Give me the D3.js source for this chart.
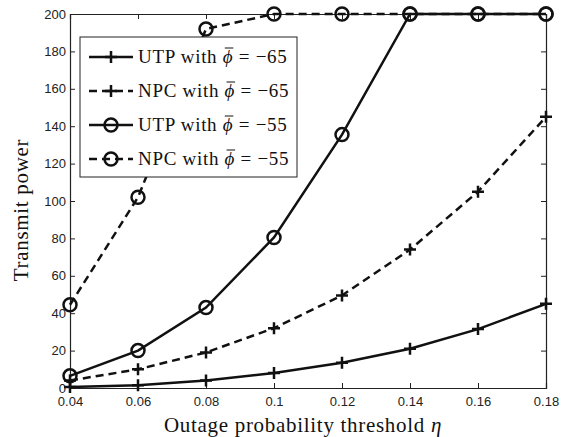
<!DOCTYPE html>
<html>
<head>
<meta charset="utf-8">
<script src="https://cdn.jsdelivr.net/npm/d3@7"></script>
<style>
  body { margin: 0; background: #fff; }
  svg { display: block; }
  .tick text { font-family: "Liberation Sans", Arial, sans-serif; font-size: 13px; fill: #222; }
  .lbl { font-family: "Liberation Serif", "DejaVu Serif", serif; fill: #111; letter-spacing: 0.7px; }
</style>
</head>
<body>
<svg id="chart" width="569" height="437"></svg>
<script>
// Outage probability threshold
const eta = [0.04, 0.06, 0.08, 0.1, 0.12, 0.14, 0.16, 0.18];
const utp65 = [0.5, 1.5, 4, 8, 13.5, 21, 31.5, 45];
const npc65 = [4, 10, 19, 32, 49.5, 74, 105, 145];
const utp55 = [6.5, 20, 43, 80.5, 135.5, 200, 200, 200];
const npc55 = [44.5, 102, 192, 200, 200, 200, 200, 200];
const yTicks = [0, 20, 40, 60, 80, 100, 120, 140, 160, 180, 200];

const series = [
  { name: "UTP", phi: "−65", values: utp65, dash: null, marker: "plus" },
  { name: "NPC", phi: "−65", values: npc65, dash: "8,5", marker: "plus" },
  { name: "UTP", phi: "−55", values: utp55, dash: null, marker: "circle" },
  { name: "NPC", phi: "−55", values: npc55, dash: "8,5", marker: "circle" }
];

const svg = d3.select("#chart");
const margin = { top: 14, right: 23, bottom: 49, left: 70 };
const width = 569 - margin.left - margin.right;
const height = 437 - margin.top - margin.bottom;

const x = d3.scaleLinear().domain([0.04, 0.18]).range([0, width]);
const y = d3.scaleLinear().domain([0, 200]).range([height, 0]);

const g = svg.append("g").attr("transform", `translate(${margin.left},${margin.top})`);

// ejes (ticks hacia dentro, estilo matlab)
const fmt = d => String(+d.toFixed(2));
g.append("g").attr("transform", `translate(0,${height})`)
  .call(d3.axisBottom(x).tickValues(eta).tickSize(-5).tickPadding(9).tickFormat(fmt));
g.append("g")
  .call(d3.axisLeft(y).tickValues(yTicks).tickSize(-5).tickPadding(4));
g.append("g")
  .call(d3.axisTop(x).tickValues(eta).tickSize(-5).tickFormat(""));
g.append("g").attr("transform", `translate(${width},0)`)
  .call(d3.axisRight(y).tickValues(yTicks).tickSize(-5).tickFormat(""));
g.selectAll(".domain").attr("stroke", "#222").attr("stroke-width", 1.2);
g.selectAll(".tick line").attr("stroke", "#222");

const line = d3.line().x((d, i) => x(eta[i])).y(d => y(d));

function drawMarker(sel, type, cx, cy) {
  if (type === "plus") {
    sel.append("path")
      .attr("d", `M${cx - 6},${cy}H${cx + 6}M${cx},${cy - 6}V${cy + 6}`)
      .attr("stroke", "#111").attr("stroke-width", 2.5).attr("fill", "none");
  } else {
    sel.append("circle").attr("cx", cx).attr("cy", cy).attr("r", 6.5)
      .attr("stroke", "#111").attr("stroke-width", 2.5).attr("fill", "none");
  }
}

series.forEach(s => {
  g.append("path")
    .datum(s.values)
    .attr("d", line)
    .attr("fill", "none")
    .attr("stroke", "#111")
    .attr("stroke-width", 2.5)
    .attr("stroke-dasharray", s.dash);
  s.values.forEach((v, i) => drawMarker(g, s.marker, x(eta[i]), y(v)));
});

// leyenda
const lg = g.append("g").attr("transform", "translate(10,23)");
lg.append("rect").attr("width", 217).attr("height", 140)
  .attr("fill", "#fff").attr("stroke", "#222").attr("stroke-width", 1);
series.forEach((s, i) => {
  const yy = 20 + i * 34;
  lg.append("line").attr("x1", 9).attr("x2", 53).attr("y1", yy).attr("y2", yy)
    .attr("stroke", "#111").attr("stroke-width", 2.5).attr("stroke-dasharray", s.dash);
  drawMarker(lg, s.marker, 31, yy);
  const t = lg.append("text").attr("class", "lbl").attr("x", 58).attr("y", yy + 6)
    .style("font-size", "19px");
  const pre = s.name + " with ";
  t.append("tspan").text(pre);
  t.append("tspan").attr("font-style", "italic").text("ϕ");
  t.append("tspan").text(" = " + s.phi);
  // barra sobre phi
  const node = t.node();
  const x0 = 58 + node.getSubStringLength(0, pre.length);
  const w = node.getSubStringLength(pre.length, 1);
  lg.append("line").attr("x1", x0 + 2).attr("x2", x0 + w).attr("y1", yy - 9).attr("y2", yy - 9)
    .attr("stroke", "#111").attr("stroke-width", 1);
});

// etiquetas
svg.append("text").attr("class", "lbl")
  .style("font-size", "21px")
  .attr("x", 303).attr("y", 432)
  .attr("text-anchor", "middle")
  .html('Outage probability threshold <tspan font-style="italic">η</tspan>');
svg.append("text").attr("class", "lbl")
  .style("font-size", "21px")
  .attr("transform", `translate(28,210) rotate(-90)`)
  .attr("text-anchor", "middle")
  .text("Transmit power");
</script>
</body>
</html>
